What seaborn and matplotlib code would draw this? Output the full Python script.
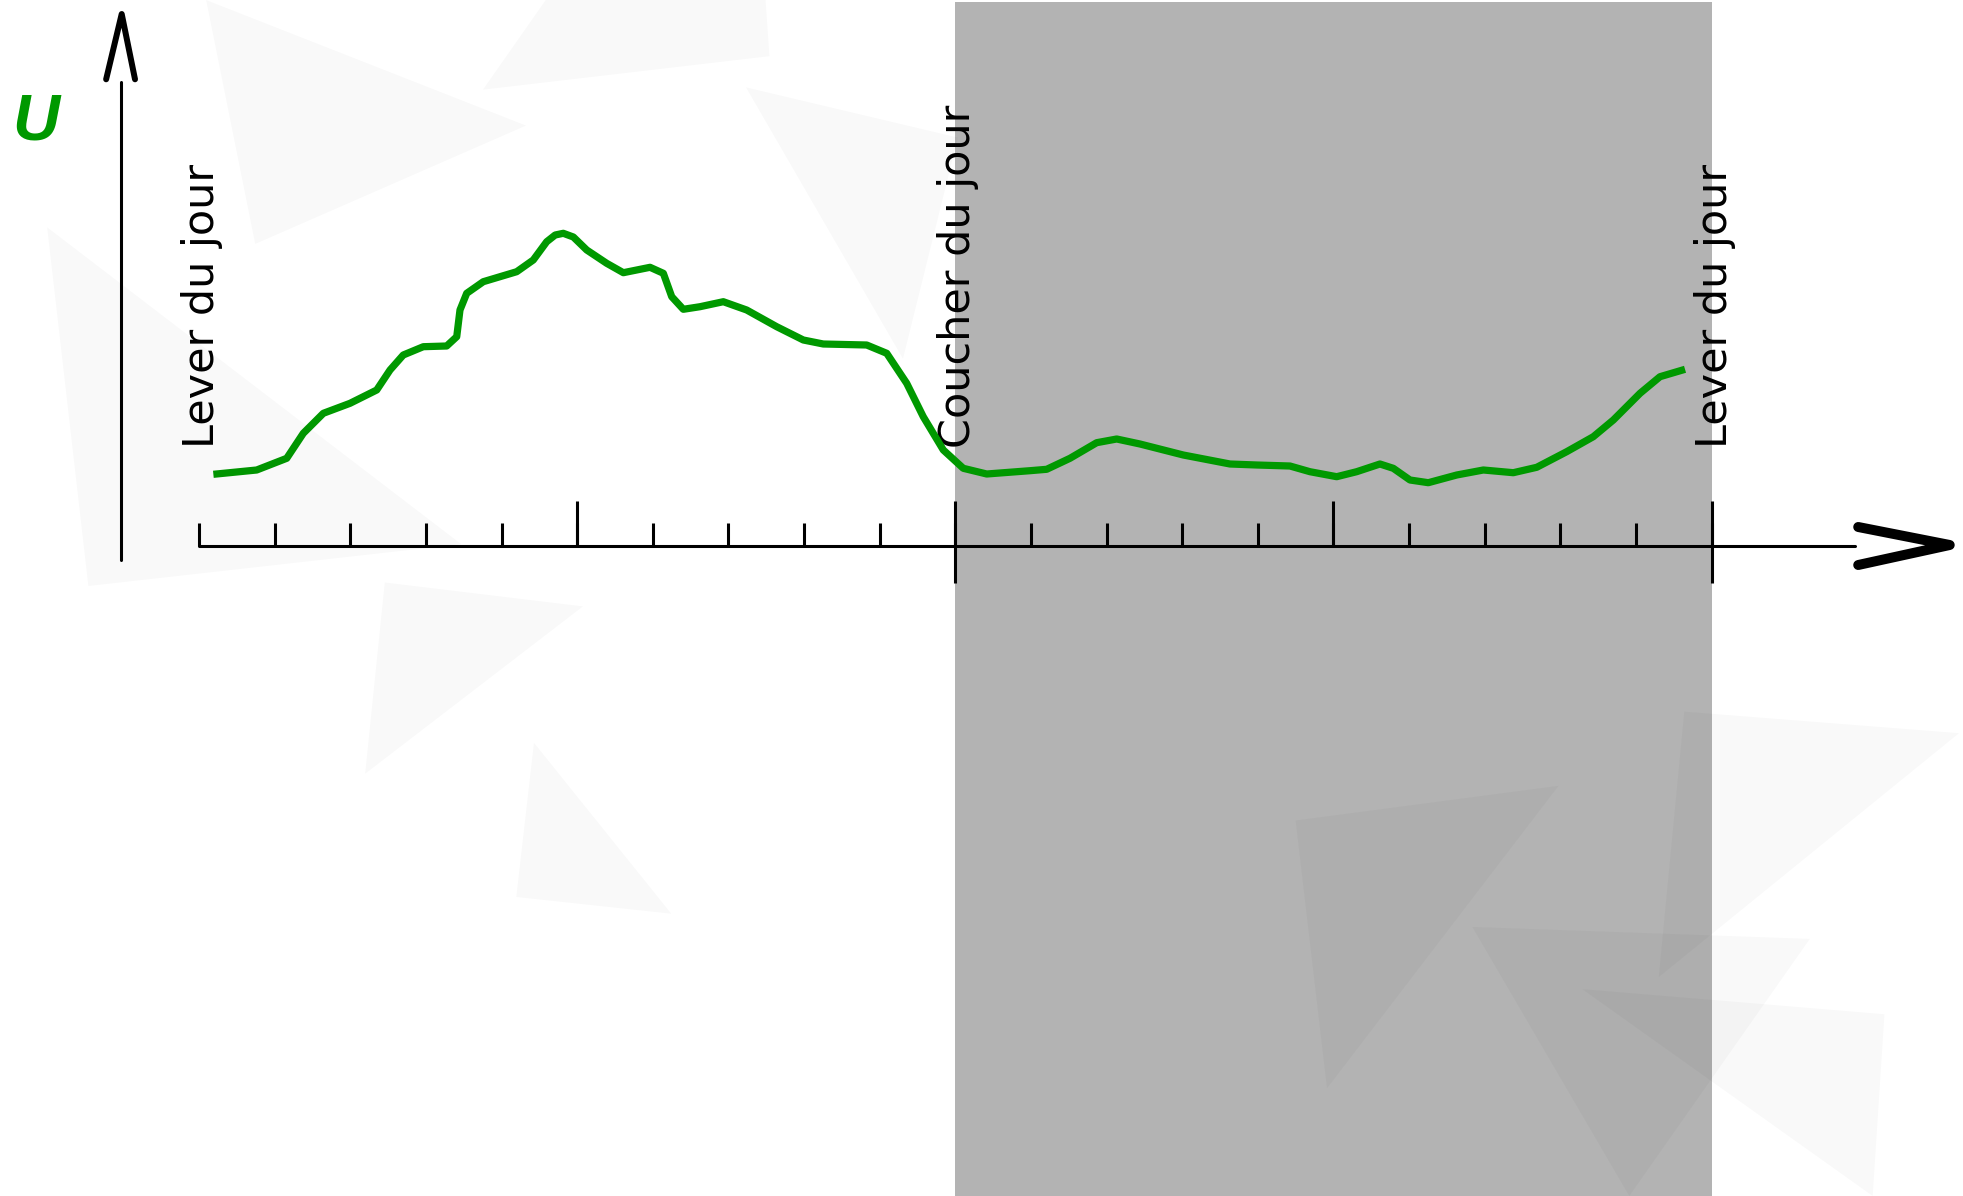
import matplotlib
matplotlib.use("Agg")
import matplotlib.pyplot as plt
import seaborn as sns
import pandas as pd
from matplotlib.patches import Polygon

# --- DATA ---
# x : position on the time axis (tick units, 0 = sunrise, 10 = sunset, 20 = next sunrise)
x_time = [0.19, 0.763, 1.16, 1.379, 1.644, 1.997, 2.35, 2.526, 2.701, 2.966,
          3.275, 3.408, 3.451, 3.54, 3.759, 4.201, 4.42, 4.598, 4.71, 4.817, 4.95, 5.127,
          5.391, 5.611, 5.964, 6.14, 6.251, 6.404, 6.625, 6.933, 7.242, 7.639,
          7.991, 8.255, 8.829, 9.094, 9.358, 9.577, 9.842, 10.106, 10.416, 10.988,
          11.209, 11.517, 11.87, 12.135, 12.443, 13.015, 13.633, 13.986, 14.426, 14.69,
          15.044, 15.308, 15.616, 15.792, 16.013, 16.255, 16.631, 16.983, 17.379, 17.689,
          18.085, 18.437, 18.702, 19.055, 19.319, 19.65]
u_value = [0.717, 0.76, 0.877, 1.127, 1.327, 1.427, 1.56, 1.76, 1.91, 1.993,
           2.0, 2.093, 2.36, 2.527, 2.643, 2.743, 2.86, 3.043, 3.11, 3.127, 3.09, 2.96,
           2.827, 2.733, 2.787, 2.727, 2.493, 2.367, 2.393, 2.443, 2.36, 2.193,
           2.06, 2.02, 2.01, 1.927, 1.627, 1.293, 0.96, 0.777, 0.72, 0.753,
           0.767, 0.877, 1.033, 1.07, 1.02, 0.91, 0.82, 0.81, 0.80, 0.743,
           0.693, 0.743, 0.82, 0.777, 0.66, 0.633, 0.71, 0.76, 0.733, 0.787,
           0.943, 1.093, 1.26, 1.527, 1.693, 1.767]

minor_ticks = list(range(0, 21))
major_ticks = [5, 15]
cross_ticks = [10, 20]
event_pos = [0, 10, 20]
event_labels = ["Lever du jour", "Coucher du jour", "Lever du jour"]
night = (10, 20)

GREEN = "#009900"
GREY = "#b3b3b3"

sns.set_theme(style="white")
plt.rcParams["font.family"] = ["DejaVu Sans"]

fig = plt.figure(figsize=(19.63, 11.96), dpi=100)
ax = fig.add_axes([0, 0, 1, 1])
ax.axis("off")

# faint decorative background shapes (figure fraction)
bg = [
    [(0.024, 0.81), (0.045, 0.51), (0.235, 0.545)],
    [(0.196, 0.513), (0.297, 0.493), (0.186, 0.353)],
    [(0.272, 0.379), (0.342, 0.236), (0.263, 0.25)],
    [(0.246, 0.925), (0.278, 1.0), (0.39, 1.0), (0.392, 0.953)],
    [(0.38, 0.927), (0.488, 0.885), (0.46, 0.7)],
    [(0.66, 0.314), (0.794, 0.343), (0.676, 0.09)],
    [(0.858, 0.405), (0.998, 0.387), (0.845, 0.183)],
    [(0.75, 0.225), (0.922, 0.215), (0.83, 0.0)],
    [(0.806, 0.173), (0.96, 0.152), (0.954, 0.0)],
    [(0.105, 1.0), (0.13, 0.796), (0.268, 0.895)],
]
for tri in bg:
    fig.patches.append(Polygon(tri, closed=True, transform=fig.transFigure,
                               facecolor="black", alpha=0.022, edgecolor="none",
                               joinstyle="round", zorder=0))

# night band
ax.axvspan(night[0], night[1], ymin=0, ymax=0.998, color=GREY, zorder=1, lw=0)

# x axis with arrow
ax.plot([0, 21.9], [0, 0], color="black", lw=2.2, zorder=3)
ax.plot([21.94, 23.15, 21.94], [0.19, 0.01, -0.19], color="black", lw=7.2,
        solid_capstyle="round", solid_joinstyle="round", zorder=3)
ax.vlines(minor_ticks, 0, 0.23, color="black", lw=2.2, zorder=3)
ax.vlines(major_ticks, 0, 0.45, color="black", lw=2.2, zorder=3)
ax.vlines(cross_ticks, -0.37, 0.45, color="black", lw=2.2, zorder=3)

# y axis with arrow
ax.plot([-1.031, -1.031], [-0.14, 4.64], color="black", lw=2.2, zorder=3)
ax.plot([-1.228, -1.022, -0.846], [4.667, 5.32, 4.667], color="black", lw=4.3,
        solid_capstyle="round", solid_joinstyle="round", zorder=3)
ax.text(-2.47, 4.06, "U", color=GREEN, fontsize=47, fontweight="bold",
        fontstyle="italic", family=["Liberation Sans", "DejaVu Sans"],
        ha="left", va="baseline", zorder=4)

# event labels
for pos, lab in zip(event_pos, event_labels):
    ax.text(pos + 0.2, 0.98, lab, rotation=90, rotation_mode="anchor",
            ha="left", va="baseline", fontsize=31, color="black",
            family=["DejaVu Sans"], zorder=4)

# curve
df = pd.DataFrame({"x": x_time, "U": u_value})
sns.lineplot(data=df, x="x", y="U", ax=ax, color=GREEN, linewidth=5.2,
             sort=False, zorder=5)
line = ax.lines[-1]
line.set_solid_capstyle("butt")
line.set_solid_joinstyle("round")

ax.set_xlim(-2.6314, 23.3256)
ax.set_ylim(-6.5, 5.46)
fig.savefig("out.png", dpi=100, facecolor="white")
